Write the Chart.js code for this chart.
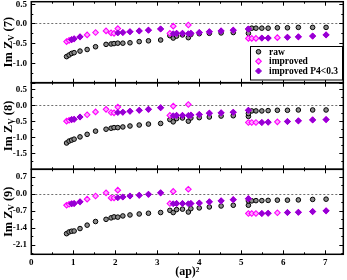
<!DOCTYPE html>
<html><head><meta charset="utf-8">
<script src="https://cdn.jsdelivr.net/npm/chart.js@4.4.0/dist/chart.umd.min.js"></script>
<style>html,body{margin:0;padding:0;background:#fff;}canvas{display:block;}</style>
</head><body>
<canvas id="c" width="347" height="280"></canvas>
<script>
// ---- data ----
const xVals = [0.84,0.90,0.96,1.02,1.16,1.33,1.53,1.78,1.90,1.97,2.06,2.18,2.35,2.57,2.79,3.08,
  3.30,3.38,3.46,3.60,3.74,3.80,4.00,4.24,4.52,4.81,5.17,
  5.17,5.25,5.35,5.49,5.64,5.86,6.10,6.36,6.70,7.02];

const raw7 = [-0.84,-0.80,-0.76,-0.74,-0.70,-0.66,-0.59,-0.53,-0.52,-0.51,-0.50,-0.50,-0.49,-0.46,-0.44,-0.42,
  -0.31,-0.37,-0.32,-0.29,-0.36,-0.28,-0.26,-0.25,-0.24,-0.23,-0.25,
  -0.14,-0.12,-0.12,-0.12,-0.12,-0.11,-0.11,-0.10,-0.10,-0.10];
const imp7 = [-0.46,-0.43,-0.41,-0.39,-0.34,-0.29,-0.23,-0.19,-0.24,-0.25,-0.13,-0.23,-0.21,-0.19,-0.17,-0.14,
  -0.25,-0.07,-0.25,-0.25,-0.04,-0.25,-0.23,-0.21,-0.19,-0.17,-0.14,
  -0.38,-0.38,-0.38,-0.37,-0.37,-0.36,-0.35,-0.34,-0.32,-0.29];
const p4_7 = [null,null,-0.41,-0.39,-0.34,null,null,null,null,null,-0.24,-0.23,-0.21,-0.19,-0.17,-0.14,
  null,-0.26,-0.25,-0.25,-0.26,-0.25,-0.23,-0.21,-0.19,-0.17,-0.14,
  null,null,null,-0.37,-0.37,null,-0.35,-0.34,-0.32,-0.29];

const raw8 = [-1.18,-1.12,-1.09,-1.06,-0.99,-0.91,-0.81,-0.75,-0.72,-0.70,-0.70,-0.68,-0.65,-0.62,-0.59,-0.57,
  -0.45,-0.52,-0.42,-0.40,-0.50,-0.40,-0.39,-0.37,-0.34,-0.33,-0.35,
  -0.26,-0.18,-0.18,-0.18,-0.17,-0.16,-0.16,-0.15,-0.15,-0.15];
const imp8 = [-0.50,-0.47,-0.45,-0.44,-0.37,-0.30,-0.21,-0.13,-0.23,-0.24,-0.06,-0.22,-0.19,-0.16,-0.13,-0.08,
  -0.32,-0.03,-0.32,-0.32,0.02,-0.31,-0.29,-0.25,-0.24,-0.22,-0.16,
  -0.54,-0.54,-0.54,-0.54,-0.53,-0.52,-0.51,-0.49,-0.46,-0.45];
const p4_8 = [null,null,-0.45,-0.44,-0.37,null,null,null,null,null,-0.23,-0.22,-0.19,-0.16,-0.13,-0.08,
  null,-0.33,-0.32,-0.32,-0.32,-0.31,-0.29,-0.25,-0.24,-0.22,-0.16,
  null,null,null,-0.54,-0.53,null,-0.51,-0.49,-0.46,-0.45];

const raw9 = [-1.65,-1.58,-1.55,-1.54,-1.44,-1.30,-1.15,-1.06,-1.00,-0.96,-0.97,-0.92,-0.88,-0.84,-0.81,-0.78,
  -0.69,-0.78,-0.66,-0.64,-0.76,-0.62,-0.59,-0.55,-0.51,-0.48,-0.48,
  -0.30,-0.30,-0.29,-0.29,-0.28,-0.27,-0.27,-0.26,-0.24,-0.23];
const imp9 = [-0.48,-0.44,-0.42,-0.41,-0.34,-0.23,-0.10,0.03,-0.18,-0.18,0.14,-0.14,-0.10,-0.07,-0.03,0.03,
  -0.41,0.09,-0.41,-0.41,0.18,-0.41,-0.39,-0.34,-0.30,-0.25,-0.21,
  -0.82,-0.82,-0.82,-0.82,-0.81,-0.79,-0.78,-0.77,-0.74,-0.71];
const p4_9 = [null,null,-0.42,-0.41,-0.34,null,null,null,null,null,-0.17,-0.14,-0.10,-0.07,-0.03,0.03,
  null,-0.42,-0.41,-0.41,-0.42,-0.41,-0.39,-0.34,-0.30,-0.25,-0.21,
  null,null,null,-0.82,-0.81,null,-0.78,-0.77,-0.74,-0.71];

const xTickVals = [0,1,2,3,4,5,6,7];
const xTickLabels = ["0","1","2","3","4","5","6","7"];
const yTickVals7 = [0.5,0,-0.5,-1.0];
const yTickLabels7 = ["0.5","0.0","-0.5","-1.0"];
const yTickVals8 = [0.5,0,-0.5,-1.0,-1.5];
const yTickLabels8 = ["0.5","0.0","-0.5","-1.0","-1.5"];
const yTickVals9 = [0.7,0,-0.7,-1.4,-2.1];
const yTickLabels9 = ["0.7","0.0","-0.7","-1.4","-2.1"];
const seriesNames = ["raw","improved","improved P4<0.3"];
const panelTags = ["(7)","(8)","(9)"];
const xTitle = "(ap)²";

// ---- layout / style ----
const FONT = "'Liberation Serif', 'DejaVu Serif', serif";
const panels = [
  {id:'y7', min:-1.5, max:0.55, minor:0.25, major:yTickVals7, labels:yTickLabels7, w:81,   order:3, raw:raw7, imp:imp7, p4:p4_7, tag:panelTags[0]},
  {id:'y8', min:-2.0, max:0.7,  minor:0.25, major:yTickVals8, labels:yTickLabels8, w:86.6, order:2, raw:raw8, imp:imp8, p4:p4_8, tag:panelTags[1]},
  {id:'y9', min:-2.5, max:1.0,  minor:0.35, major:yTickVals9, labels:yTickLabels9, w:85,   order:1, raw:raw9, imp:imp9, p4:p4_9, tag:panelTags[2]}
];
const styles = {
  raw: {pointStyle:'circle', pointRadius:2.3, pointBackgroundColor:'#8c8c8c', pointBorderColor:'#000000', pointBorderWidth:1, order:2},
  imp: {pointStyle:'rectRot', pointRadius:2.8, pointBackgroundColor:'#ffa8ff', pointBorderColor:'#ff00ff', pointBorderWidth:1.1, order:1},
  p4:  {pointStyle:'rectRot', pointRadius:3.0, pointBackgroundColor:'#9400d3', pointBorderColor:'#9400d3', pointBorderWidth:1, order:0}
};

function pts(vals){ const out=[]; vals.forEach((v,i)=>{ if(v!==null) out.push({x:xVals[i], y:v}); }); return out; }

const datasets = [];
panels.forEach(p=>{
  datasets.push(Object.assign({label:seriesNames[0], data:pts(p.raw), yAxisID:p.id, xAxisID:'x', showLine:false}, styles.raw));
  datasets.push(Object.assign({label:seriesNames[1], data:pts(p.imp), yAxisID:p.id, xAxisID:'x', showLine:false}, styles.imp));
  datasets.push(Object.assign({label:seriesNames[2], data:pts(p.p4), yAxisID:p.id, xAxisID:'x', showLine:false}, styles.p4));
});

const scales = {
  x: {
    type:'linear', position:'bottom', min:0, max:7.43,
    afterBuildTicks: s => { s.ticks = xTickVals.map(v=>({value:v})); },
    ticks:{callback:(v,i)=>xTickLabels[i], font:{family:FONT,size:9,weight:'bold'}, color:'#000', padding:3, autoSkip:false, maxRotation:0},
    grid:{display:false, drawTicks:false}, border:{display:false},
    title:{display:true, text:xTitle, font:{family:FONT,size:12,weight:'bold'}, color:'#000', padding:{top:0,bottom:1}},
    afterFit: s => { s.height = 25.7; }
  }
};
panels.forEach(p=>{
  scales[p.id] = {
    type:'linear', position:'left', stack:'panels', stackWeight:p.w, weight:p.order,
    min:p.min, max:p.max,
    afterBuildTicks: s => { s.ticks = p.major.map(v=>({value:v})); },
    ticks:{display:false},
    grid:{display:false, drawTicks:false}, border:{display:false},
    afterFit: s => { s.width = 31.3; }
  };
});

function drawSym(ctx, st, x, y){
  ctx.save();
  ctx.fillStyle = st.pointBackgroundColor; ctx.strokeStyle = st.pointBorderColor; ctx.lineWidth = st.pointBorderWidth;
  ctx.beginPath();
  const r = st.pointRadius;
  if (st.pointStyle === 'circle') { ctx.arc(x, y, r, 0, Math.PI*2); }
  else { ctx.moveTo(x, y-r); ctx.lineTo(x+r, y); ctx.lineTo(x, y+r); ctx.lineTo(x-r, y); ctx.closePath(); }
  ctx.fill(); ctx.stroke(); ctx.restore();
}

const framePlugin = {
  id:'frame',
  beforeDatasetsDraw(chart){
    const ctx = chart.ctx, xs = chart.scales.x;
    panels.forEach(p=>{
      const ys = chart.scales[p.id], y0 = Math.round(ys.getPixelForValue(0)) + 0.5;
      ctx.save(); ctx.strokeStyle = '#6e6e6e'; ctx.lineWidth = 1; ctx.setLineDash([2,2]);
      ctx.beginPath(); ctx.moveTo(xs.left, y0); ctx.lineTo(xs.right, y0); ctx.stroke(); ctx.restore();
    });
  },
  afterDraw(chart){
    const ctx = chart.ctx, xs = chart.scales.x;
    const L = xs.left, R = xs.right;
    // frames and inward ticks
    panels.forEach(p=>{
      const ys = chart.scales[p.id];
      const T = ys.top, B = ys.bottom;
      ctx.save();
      ctx.strokeStyle = '#000'; ctx.lineWidth = 1;
      ctx.beginPath();
      for (let v = 0; v <= xs.max + 1e-9; v += 0.5) {
        const px = Math.round(xs.getPixelForValue(v)) + 0.5;
        const len = Math.abs(v - Math.round(v)) < 1e-9 ? 4 : 2;
        ctx.moveTo(px, B); ctx.lineTo(px, B - len);
        ctx.moveTo(px, T); ctx.lineTo(px, T + len);
      }
      const step = p.minor;
      const start = Math.ceil((p.min - 1e-9) / step) * step;
      for (let v = start; v <= p.max + 1e-9; v += step) {
        const py = Math.round(ys.getPixelForValue(v)) + 0.5;
        const isMajor = Math.abs(v / (2*step) - Math.round(v / (2*step))) < 1e-6;
        const len = isMajor ? 4 : 2;
        ctx.moveTo(L, py); ctx.lineTo(L + len, py);
        ctx.moveTo(R, py); ctx.lineTo(R - len, py);
      }
      ctx.stroke();
      ctx.lineWidth = 1.5;
      ctx.strokeRect(L, T, R - L, B - T);
      ctx.restore();
    });
    // y tick labels and titles
    panels.forEach(p=>{
      const ys = chart.scales[p.id];
      const T = ys.top, B = ys.bottom;
      ctx.save();
      ctx.font = `bold 9px ${FONT}`; ctx.fillStyle = '#000'; ctx.textAlign = 'right'; ctx.textBaseline = 'middle';
      p.major.forEach((v, i)=>{ ctx.fillText(p.labels[i], 27, ys.getPixelForValue(v) + 0.5); });
      ctx.restore();

      ctx.save();
      const cx = 8, cy = (T + B) / 2;
      ctx.translate(cx, cy); ctx.rotate(-Math.PI / 2);
      ctx.fillStyle = '#000'; ctx.textBaseline = 'middle'; ctx.textAlign = 'left';
      const big = `bold 12.5px ${FONT}`, small = `bold 8.5px ${FONT}`;
      const s1 = 'Im Z', s2 = 'V', s3 = ' ' + p.tag;
      ctx.font = big; const w1 = ctx.measureText(s1).width, w3 = ctx.measureText(s3).width;
      ctx.font = small; const w2 = ctx.measureText(s2).width;
      const x0 = -(w1 + w2 + w3) / 2;
      ctx.font = big; ctx.fillText(s1, x0, 0.5);
      ctx.font = small; ctx.fillText(s2, x0 + w1, 3.5);
      ctx.font = big; ctx.fillText(s3, x0 + w1 + w2, 0.5);
      ctx.restore();
    });

    // legend (top panel)
    const bx = 250.5, by = 46.5, bw = 92, bh = 33.5;
    ctx.save();
    ctx.fillStyle = '#fff'; ctx.fillRect(bx, by, bw, bh);
    ctx.strokeStyle = '#000'; ctx.lineWidth = 1; ctx.strokeRect(bx, by, bw, bh);
    const rows = [51.8, 61.3, 71.0], sts = [styles.raw, styles.imp, styles.p4];
    ctx.font = `bold 9.5px ${FONT}`; ctx.textBaseline = 'middle'; ctx.textAlign = 'left';
    rows.forEach((ry, i)=>{
      drawSym(ctx, sts[i], 258.5, ry);
      ctx.fillStyle = '#000';
      ctx.fillText(seriesNames[i], 269, ry + 0.5);
    });
    ctx.restore();
  }
};

new Chart(document.getElementById('c'), {
  type:'scatter',
  data:{datasets},
  options:{
    responsive:false, animation:false, devicePixelRatio:1, events:[],
    layout:{autoPadding:false, padding:{left:0, right:3.7, top:1.7, bottom:0}},
    plugins:{legend:{display:false}, tooltip:{enabled:false}, title:{display:false}},
    scales
  },
  plugins:[framePlugin]
});
</script>
</body></html>
